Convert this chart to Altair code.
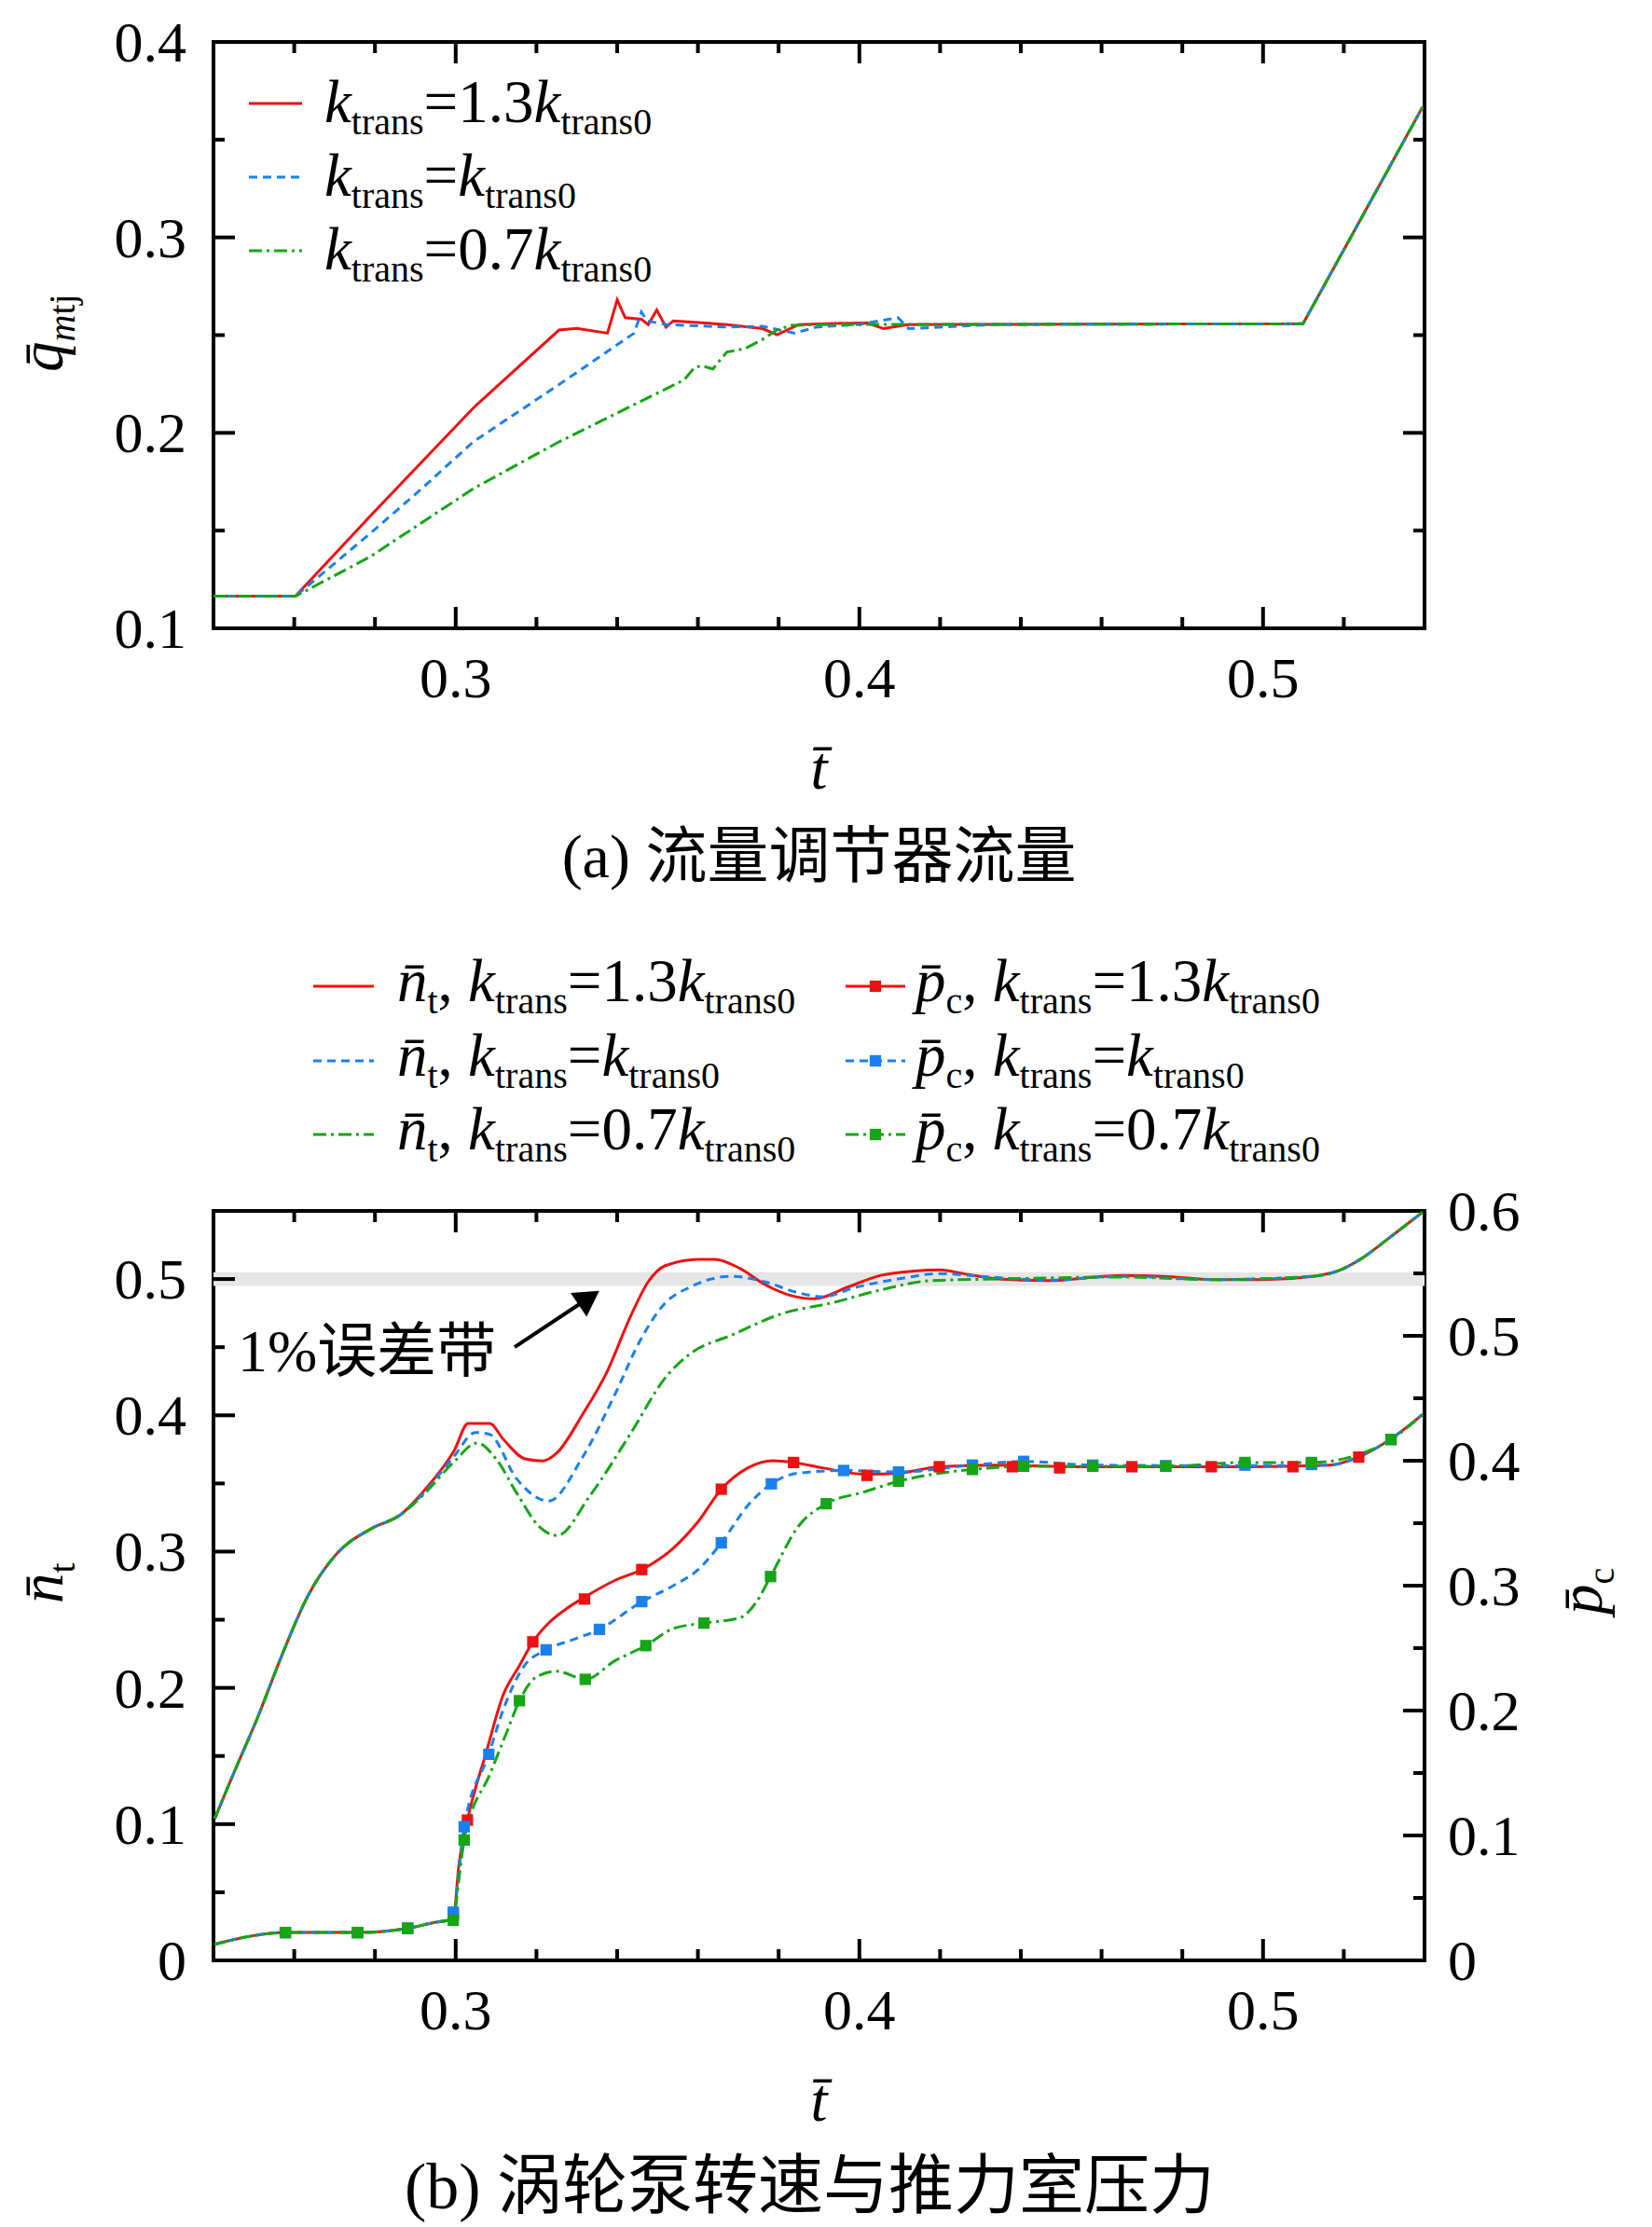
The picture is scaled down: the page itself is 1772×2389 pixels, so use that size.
import altair as alt
import pandas as pd

# ---------------- data ----------------
# panel (a): flow regulator flow  q_mtj vs t
qa_red_t = [0.2400, 0.2603, 0.2788, 0.3044, 0.3256, 0.3300, 0.3376, 0.3400, 0.3420, 0.3460, 0.3477,
            0.3498, 0.3521, 0.3539, 0.3672, 0.3760, 0.3796, 0.3850, 0.3937, 0.4020, 0.4060, 0.4120,
            0.4342, 0.5099, 0.5395]
qa_red_v = [0.1164, 0.1164, 0.1574, 0.2128, 0.2526, 0.2535, 0.2510, 0.2681, 0.2589, 0.2581, 0.2554,
            0.2629, 0.2541, 0.2573, 0.2554, 0.2533, 0.2502, 0.2554, 0.2560, 0.2562, 0.2533, 0.2554,
            0.2555, 0.2558, 0.3666]
qa_blue_t = [0.2400, 0.2603, 0.2788, 0.2908, 0.3044, 0.3256, 0.3442, 0.3460, 0.3474, 0.3521, 0.3672,
             0.3760, 0.3840, 0.3893, 0.4000, 0.4096, 0.4122, 0.4342, 0.5099, 0.5395]
qa_blue_v = [0.1164, 0.1164, 0.1485, 0.1700, 0.1955, 0.2247, 0.2510, 0.2618, 0.2573, 0.2554, 0.2541,
             0.2545, 0.2510, 0.2541, 0.2555, 0.2589, 0.2533, 0.2555, 0.2558, 0.3666]
qa_green_t = [0.2400, 0.2603, 0.2788, 0.3044, 0.3256, 0.3566, 0.3592, 0.3610, 0.3637, 0.3672, 0.3716,
              0.3760, 0.3796, 0.3831, 0.3900, 0.4342, 0.5099, 0.5395]
qa_green_v = [0.1164, 0.1164, 0.1366, 0.1715, 0.1954, 0.2271, 0.2335, 0.2343, 0.2327, 0.2414, 0.2430,
              0.2478, 0.2526, 0.2550, 0.2554, 0.2555, 0.2558, 0.3666]

# panel (b): turbopump speed n_t (left axis)
nt_red_t = [0.2403, 0.2451, 0.2509, 0.2571, 0.2633, 0.2704, 0.2792, 0.2863, 0.2924, 0.2996, 0.3031,
            0.3084, 0.3119, 0.3172, 0.3216, 0.3251, 0.3313, 0.3374, 0.3436, 0.3477, 0.3519, 0.3601,
            0.3642, 0.3704, 0.3765, 0.3827, 0.3889, 0.3971, 0.4053, 0.4136, 0.4198, 0.4259, 0.4342,
            0.4465, 0.4650, 0.4753, 0.4877, 0.5000, 0.5123, 0.5185, 0.5247, 0.5309, 0.5395]
nt_red_v = [0.104, 0.138, 0.178, 0.225, 0.267, 0.298, 0.317, 0.327, 0.3455, 0.374, 0.394,
            0.394, 0.382, 0.368, 0.3665, 0.3725, 0.400, 0.4314, 0.4745, 0.498, 0.5098, 0.5145,
            0.5145, 0.5078, 0.4961, 0.4882, 0.4855, 0.4941, 0.5027, 0.5059, 0.5067, 0.5039, 0.5000,
            0.4988, 0.5027, 0.5020, 0.4996, 0.4996, 0.5020, 0.5059, 0.5157, 0.5294, 0.549]
nt_blue_t = [0.2403, 0.2451, 0.2509, 0.2571, 0.2633, 0.2704, 0.2792, 0.2863, 0.2924, 0.2996, 0.3049,
             0.3084, 0.3151, 0.3230, 0.3313, 0.3395, 0.3457, 0.3519, 0.3580, 0.3683, 0.3765, 0.3848,
             0.3909, 0.3992, 0.4095, 0.4198, 0.4300, 0.4465, 0.4650, 0.4877, 0.5123, 0.5185, 0.5247,
             0.5309, 0.5395]
nt_blue_v = [0.104, 0.138, 0.178, 0.225, 0.267, 0.298, 0.317, 0.327, 0.3440, 0.370, 0.3874,
             0.386, 0.3534, 0.337, 0.3686, 0.4157, 0.4549, 0.4824, 0.494, 0.502, 0.498, 0.490,
             0.487, 0.494, 0.500, 0.504, 0.502, 0.4992, 0.502, 0.4996, 0.502, 0.5059, 0.5157,
             0.5294, 0.549]
nt_green_t = [0.2403, 0.2451, 0.2509, 0.2571, 0.2633, 0.2704, 0.2792, 0.2863, 0.2924, 0.2996, 0.3053,
              0.3100, 0.3151, 0.3208, 0.3251, 0.3333, 0.3436, 0.3519, 0.3580, 0.3683, 0.3807, 0.3930,
              0.4053, 0.4177, 0.4340, 0.4650, 0.4877, 0.5123, 0.5185, 0.5247, 0.5309, 0.5395]
nt_green_v = [0.104, 0.138, 0.178, 0.225, 0.267, 0.298, 0.317, 0.327, 0.343, 0.366, 0.3797,
              0.368, 0.343, 0.318, 0.3118, 0.3412, 0.388, 0.4275, 0.445, 0.4588, 0.4745, 0.4824,
              0.492, 0.4988, 0.500, 0.5015, 0.4996, 0.502, 0.5059, 0.5157, 0.5294, 0.549]

# panel (b): chamber pressure p_c (right axis)
pc_red_t = [0.2403, 0.2490, 0.2578, 0.2757, 0.2881, 0.2942, 0.2994, 0.3008, 0.3029, 0.3076, 0.3117,
            0.3158, 0.3191, 0.3230, 0.3272, 0.3323, 0.3395, 0.3461, 0.3539, 0.3601, 0.3658, 0.3724,
            0.3786, 0.3837, 0.3909, 0.4012, 0.4095, 0.4198, 0.4342, 0.4547, 0.4959, 0.5165, 0.5237,
            0.5319, 0.5395]
pc_red_v = [0.0129, 0.0193, 0.0223, 0.0223, 0.0257, 0.0300, 0.0334, 0.0770, 0.1123, 0.167, 0.212,
            0.236, 0.255, 0.270, 0.281, 0.2915, 0.3043, 0.3129, 0.330, 0.3515, 0.3772, 0.3943,
            0.400, 0.3986, 0.3943, 0.3892, 0.390, 0.3952, 0.3965, 0.3952, 0.3952, 0.3965, 0.403,
            0.418, 0.437]
pc_blue_t = [0.2403, 0.2490, 0.2578, 0.2757, 0.2881, 0.2942, 0.2994, 0.3008, 0.3021, 0.3082, 0.3117,
             0.3168, 0.3224, 0.3292, 0.3356, 0.3461, 0.3539, 0.3601, 0.3658, 0.3724, 0.3782, 0.3848,
             0.3961, 0.4097, 0.4280, 0.4407, 0.4578, 0.4959, 0.5165, 0.5237, 0.5319, 0.5395]
pc_blue_v = [0.0129, 0.0193, 0.0223, 0.0223, 0.0257, 0.0300, 0.0334, 0.0720, 0.107, 0.165, 0.200,
             0.235, 0.2486, 0.257, 0.265, 0.2872, 0.300, 0.3129, 0.3343, 0.3643, 0.3815, 0.390,
             0.3922, 0.391, 0.3965, 0.3995, 0.3965, 0.396, 0.3965, 0.403, 0.418, 0.437]
pc_green_t = [0.2403, 0.2490, 0.2578, 0.2757, 0.2881, 0.2942, 0.2994, 0.3008, 0.3021, 0.3086, 0.3128,
              0.3158, 0.3200, 0.3251, 0.3321, 0.3395, 0.3471, 0.3539, 0.3615, 0.3704, 0.3745, 0.3780,
              0.3848, 0.3918, 0.4012, 0.4097, 0.4198, 0.4280, 0.4407, 0.4578, 0.4759, 0.4955, 0.5120,
              0.5237, 0.5317, 0.5395]
pc_green_v = [0.0129, 0.0193, 0.0223, 0.0223, 0.0257, 0.0300, 0.0334, 0.0650, 0.0964, 0.150, 0.184,
              0.2079, 0.227, 0.2315, 0.225, 0.240, 0.252, 0.2657, 0.270, 0.2743, 0.287, 0.3073,
              0.3472, 0.3656, 0.375, 0.3836, 0.390, 0.393, 0.3956, 0.3956, 0.3956, 0.3986, 0.3986,
              0.405, 0.417, 0.437]

# p_c marker positions
mk_red_t = [0.2578, 0.2757, 0.2881, 0.2994, 0.3029, 0.3191, 0.3319, 0.3461, 0.3658, 0.3837, 0.4019,
            0.4198, 0.4379, 0.4496, 0.4675, 0.4872, 0.5074, 0.5237]
mk_red_v = [0.0223, 0.0223, 0.0257, 0.0364, 0.1123, 0.255, 0.2893, 0.3129, 0.3772, 0.3986, 0.3883,
            0.3952, 0.3952, 0.3943, 0.3952, 0.3952, 0.3952, 0.4029]
mk_blue_t = [0.2578, 0.2757, 0.2881, 0.2994, 0.3021, 0.3082, 0.3224, 0.3356, 0.3461, 0.3658, 0.3782,
             0.3961, 0.4097, 0.4280, 0.4407, 0.4578, 0.4759, 0.4955, 0.5120, 0.5317]
mk_blue_v = [0.0223, 0.0223, 0.0257, 0.0386, 0.107, 0.165, 0.2486, 0.265, 0.2872, 0.3343, 0.3815,
             0.3922, 0.391, 0.3965, 0.3995, 0.3965, 0.3960, 0.3965, 0.3970, 0.417]
mk_green_t = [0.2578, 0.2757, 0.2881, 0.2994, 0.3021, 0.3158, 0.3321, 0.3471, 0.3615, 0.3780, 0.3918,
              0.4097, 0.4280, 0.4407, 0.4578, 0.4759, 0.4955, 0.5120, 0.5317]
mk_green_v = [0.0223, 0.0223, 0.0257, 0.0321, 0.0964, 0.2079, 0.225, 0.252, 0.270, 0.3073, 0.3656,
              0.3836, 0.393, 0.3956, 0.3956, 0.3956, 0.3986, 0.3986, 0.417]

# 1% error band and its arrow (data coordinates)
band_lo, band_hi = [0.495], [0.505]
arrow_t0, arrow_n0 = [0.3146], [0.450]
arrow_t1, arrow_n1 = [0.3330], [0.4862]

# ticks and tick labels
x_major = [0.3, 0.4, 0.5]
x_major_lbl = ["0.3", "0.4", "0.5"]
x_minor = [0.26, 0.28, 0.32, 0.34, 0.36, 0.38, 0.42, 0.44, 0.46, 0.48, 0.52]
qa_major = [0.2, 0.3]
qa_minor = [0.15, 0.25, 0.35]
qa_lbl_v = [0.1, 0.2, 0.3, 0.4]
qa_lbl = ["0.1", "0.2", "0.3", "0.4"]
n_major = [0.1, 0.2, 0.3, 0.4, 0.5]
n_minor = [0.05, 0.15, 0.25, 0.35, 0.45]
n_lbl_v = [0, 0.1, 0.2, 0.3, 0.4, 0.5]
n_lbl = ["0", "0.1", "0.2", "0.3", "0.4", "0.5"]
p_major = [0.1, 0.2, 0.3, 0.4, 0.5]
p_minor = [0.05, 0.15, 0.25, 0.35, 0.45, 0.55]
p_lbl_v = [0, 0.1, 0.2, 0.3, 0.4, 0.5, 0.6]
p_lbl = ["0", "0.1", "0.2", "0.3", "0.4", "0.5", "0.6"]

# ---------------- style ----------------
FONT = "Liberation Serif"
CJK = "Liberation Serif, Noto Sans CJK SC"
RED, BLUE, GREEN = "#ee1111", "#1a80f0", "#16a516"
DASH_B = [9, 6]
DASH_G = [14, 5, 3, 5]
LW = 3
W, HA, HB = 1299, 629, 804
TMAJ, TMIN, TW = 23, 12, 4
LBL = 62
MAIN, SUB, SHIFT = 65, 40, 13
MK = 150

xs = alt.Scale(domain=[0.24, 0.54], nice=False, zero=False)
qs = alt.Scale(domain=[0.1, 0.4], nice=False, zero=False)
ns = alt.Scale(domain=[0, 0.55], nice=False, zero=False)
ps = alt.Scale(domain=[0, 0.6], nice=False, zero=False)

one = pd.DataFrame({"k": [0]})


def line(t, v, color, dash, yscale, interp="linear"):
    df = pd.DataFrame({"t": t, "v": v})
    kw = dict(color=color, strokeWidth=LW, interpolate=interp, clip=True)
    if dash:
        kw["strokeDash"] = dash
    return alt.Chart(df).mark_line(**kw).encode(
        x=alt.X("t:Q", scale=xs, axis=None),
        y=alt.Y("v:Q", scale=yscale, axis=None),
    )


def markers(t, v, color):
    df = pd.DataFrame({"t": t, "v": v})
    return alt.Chart(df).mark_square(size=MK, color=color, opacity=1, clip=True).encode(
        x=alt.X("t:Q", scale=xs, axis=None), y=alt.Y("v:Q", scale=ps, axis=None))


def xticks(vals, L, H):
    df = pd.DataFrame({"t": vals})
    base = alt.Chart(df).mark_rule(color="black", strokeWidth=TW)
    x = alt.X("t:Q", scale=xs, axis=None)
    return [base.encode(x=x, y=alt.value(H), y2=alt.value(H - L)),
            base.encode(x=x, y=alt.value(0), y2=alt.value(L))]


def yticks(vals, L, scale, left=True, right=True):
    df = pd.DataFrame({"v": vals})
    base = alt.Chart(df).mark_rule(color="black", strokeWidth=TW)
    y = alt.Y("v:Q", scale=scale, axis=None)
    out = []
    if left:
        out.append(base.encode(y=y, x=alt.value(0), x2=alt.value(L)))
    if right:
        out.append(base.encode(y=y, x=alt.value(W - L), x2=alt.value(W)))
    return out


def xlabels(H):
    df = pd.DataFrame({"t": x_major, "s": x_major_lbl})
    return alt.Chart(df).mark_text(font=FONT, fontSize=LBL, align="center", baseline="alphabetic",
                                   color="black").encode(
        x=alt.X("t:Q", scale=xs, axis=None), y=alt.value(H + 74), text="s:N")


def ylabels(vals, lbls, scale, x, align):
    df = pd.DataFrame({"v": vals, "s": lbls})
    return alt.Chart(df).mark_text(font=FONT, fontSize=LBL, align=align, baseline="alphabetic",
                                   dy=21, color="black").encode(
        y=alt.Y("v:Q", scale=scale, axis=None), x=alt.value(x), text="s:N")


REG = {'0': .5, '1': .5, '2': .5, '3': .5, '4': .5, '5': .5, '6': .5, '7': .5, '8': .5, '9': .5,
       '.': .25, '=': .564, ',': .25, ' ': .25, 't': .278, 'r': .333, 'a': .444, 'n': .5,
       's': .389, 'c': .444, 'j': .278, 'm': .778, '%': .833, '(': .333, ')': .333}
ITA = {'k': .444, 'n': .5, 'p': .5, 'q': .5, 't': .278, 'm': .722}


def tw(s, size, italic):
    tab = ITA if italic else REG
    return sum(0 if c == '\u0304' else tab.get(c, .5) for c in s) * size


def rich(pieces, x0, y0, angle=0):
    """Text pieces laid out one after another (main text, subscripts)."""
    out, off = [], 0.0
    for text, size, italic, shift in pieces:
        if angle == 0:
            x, y = x0 + off, y0 + shift
        else:  # rotated 270: text runs upward, subscript shifts to the right
            x, y = x0 + shift, y0 - off
        kw = dict(text=text, font=FONT, fontSize=size, fontStyle="italic" if italic else "normal",
                  align="left", baseline="alphabetic", color="black")
        if angle:
            kw["angle"] = angle
        out.append(alt.Chart(one).mark_text(**kw).encode(x=alt.value(x), y=alt.value(y)))
        off += tw(text, size, italic)
    return out


def ktxt(mid):
    return [("k", MAIN, True, 0), ("trans", SUB, False, SHIFT), (mid, MAIN, False, 0),
            ("k", MAIN, True, 0), ("trans0", SUB, False, SHIFT)]


def sample(x0, x1, y, color, dash):
    kw = dict(color=color, strokeWidth=LW)
    if dash:
        kw["strokeDash"] = dash
    return alt.Chart(one).mark_rule(**kw).encode(x=alt.value(x0), x2=alt.value(x1), y=alt.value(y))


def center_text(text, x, y, size, font=FONT, italic=False):
    return alt.Chart(one).mark_text(text=text, font=font, fontSize=size, align="center",
                                    baseline="alphabetic", color="black",
                                    fontStyle="italic" if italic else "normal").encode(
        x=alt.value(x), y=alt.value(y))


# ---------------- panel (a) ----------------
layers_a = [
    line(qa_red_t, qa_red_v, RED, None, qs),
    line(qa_blue_t, qa_blue_v, BLUE, DASH_B, qs),
    line(qa_green_t, qa_green_v, GREEN, DASH_G, qs),
]
layers_a += xticks(x_major, TMAJ, HA) + xticks(x_minor, TMIN, HA)
layers_a += yticks(qa_major, TMAJ, qs) + yticks(qa_minor, TMIN, qs)
layers_a += [xlabels(HA), ylabels(qa_lbl_v, qa_lbl, qs, -29, "right")]

leg_a_rows = [66, 145, 224]
for (mid, col, dash), ly in zip([("=1.3", RED, None), ("=", BLUE, DASH_B), ("=0.7", GREEN, DASH_G)], leg_a_rows):
    layers_a.append(sample(38, 95, ly, col, dash))
    layers_a += rich(ktxt(mid), 119, ly + 20)

layers_a += rich([("q\u0304", MAIN, True, 0), ("m", SUB, True, SHIFT), ("tj", SUB, False, SHIFT)], -162, 354, angle=270)
layers_a.append(center_text("t\u0304", W / 2, HA + 172, MAIN, italic=True))
layers_a.append(center_text("(a) 流量调节器流量", W / 2, HA + 267, 66, font=CJK))

chart_a = alt.layer(*layers_a).properties(width=W, height=HA)

# ---------------- panel (b) ----------------
band = alt.Chart(pd.DataFrame({"lo": band_lo, "hi": band_hi})).mark_rect(color="#e6e6e6").encode(
    y=alt.Y("lo:Q", scale=ns, axis=None), y2="hi:Q", x=alt.value(0), x2=alt.value(W))

arrow_df = pd.DataFrame({"t0": arrow_t0, "n0": arrow_n0, "t1": arrow_t1, "n1": arrow_n1})
arrow_line = alt.Chart(arrow_df).mark_rule(color="black", strokeWidth=4).encode(
    x=alt.X("t0:Q", scale=xs, axis=None), y=alt.Y("n0:Q", scale=ns, axis=None), x2="t1:Q", y2="n1:Q")
arrow_head = alt.Chart(arrow_df).mark_point(shape="triangle-up", filled=True, size=950, angle=56,
                                           color="black", opacity=1).encode(
    x=alt.X("t1:Q", scale=xs, axis=None), y=alt.Y("n1:Q", scale=ns, axis=None))

left_layers = [
    band,
    line(nt_red_t, nt_red_v, RED, None, ns, "monotone"),
    line(nt_blue_t, nt_blue_v, BLUE, DASH_B, ns, "monotone"),
    line(nt_green_t, nt_green_v, GREEN, DASH_G, ns, "monotone"),
    arrow_line, arrow_head,
]
left_layers += xticks(x_major, TMAJ, HB) + xticks(x_minor, TMIN, HB)
left_layers += yticks(n_major, TMAJ, ns, right=False) + yticks(n_minor, TMIN, ns, right=False)
left_layers += [xlabels(HB), ylabels(n_lbl_v, n_lbl, ns, -29, "right")]
left_layers.append(alt.Chart(one).mark_text(text="1%误差带", font=CJK, fontSize=64, align="left",
                                            baseline="alphabetic", color="black").encode(
    x=alt.value(26), y=alt.value(172)))

# legend of (b)
leg_b_rows = [-241, -161, -82]
for (mid, col, dash), ly in zip([("=1.3", RED, None), ("=", BLUE, DASH_B), ("=0.7", GREEN, DASH_G)], leg_b_rows):
    left_layers.append(sample(107, 172, ly, col, dash))
    left_layers += rich([("n\u0304", MAIN, True, 0), ("t", SUB, False, SHIFT), (", ", MAIN, False, 0)] + ktxt(mid), 197, ly + 16)
    left_layers.append(sample(678, 742, ly, col, dash))
    left_layers.append(alt.Chart(one).mark_square(size=MK, color=col, opacity=1).encode(
        x=alt.value(710), y=alt.value(ly)))
    left_layers += rich([("p\u0304", MAIN, True, 0), ("c", SUB, False, SHIFT), (", ", MAIN, False, 0)] + ktxt(mid), 753, ly + 16)

left_layers += rich([("n\u0304", MAIN, True, 0), ("t", SUB, False, SHIFT)], -162, 421, angle=270)
left_layers += rich([("p\u0304", MAIN, True, 0), ("c", SUB, False, SHIFT)], W + 190, 433, angle=270)
left_layers.append(center_text("t\u0304", W / 2, HB + 172, MAIN, italic=True))
left_layers.append(center_text("(b) 涡轮泵转速与推力室压力", W / 2 - 10, HB + 266, 70, font=CJK))

right_layers = [
    line(pc_red_t, pc_red_v, RED, None, ps, "monotone"),
    line(pc_blue_t, pc_blue_v, BLUE, DASH_B, ps, "monotone"),
    line(pc_green_t, pc_green_v, GREEN, DASH_G, ps, "monotone"),
    markers(mk_red_t, mk_red_v, RED),
    markers(mk_blue_t, mk_blue_v, BLUE),
    markers(mk_green_t, mk_green_v, GREEN),
    ylabels(p_lbl_v, p_lbl, ps, W + 25, "left"),
]
right_layers += yticks(p_major, TMAJ, ps, left=False) + yticks(p_minor, TMIN, ps, left=False)

chart_b = alt.layer(alt.layer(*left_layers), alt.layer(*right_layers)).resolve_scale(
    y="independent").properties(width=W, height=HB)

chart = alt.vconcat(chart_a, chart_b, spacing=625, bounds="flush").configure_view(
    stroke="black", strokeWidth=4).properties(
    padding={"left": 5, "top": 6, "right": 5, "bottom": 2}, background="white")

chart.save("out.html", embed_options={"renderer": "svg", "actions": False})
